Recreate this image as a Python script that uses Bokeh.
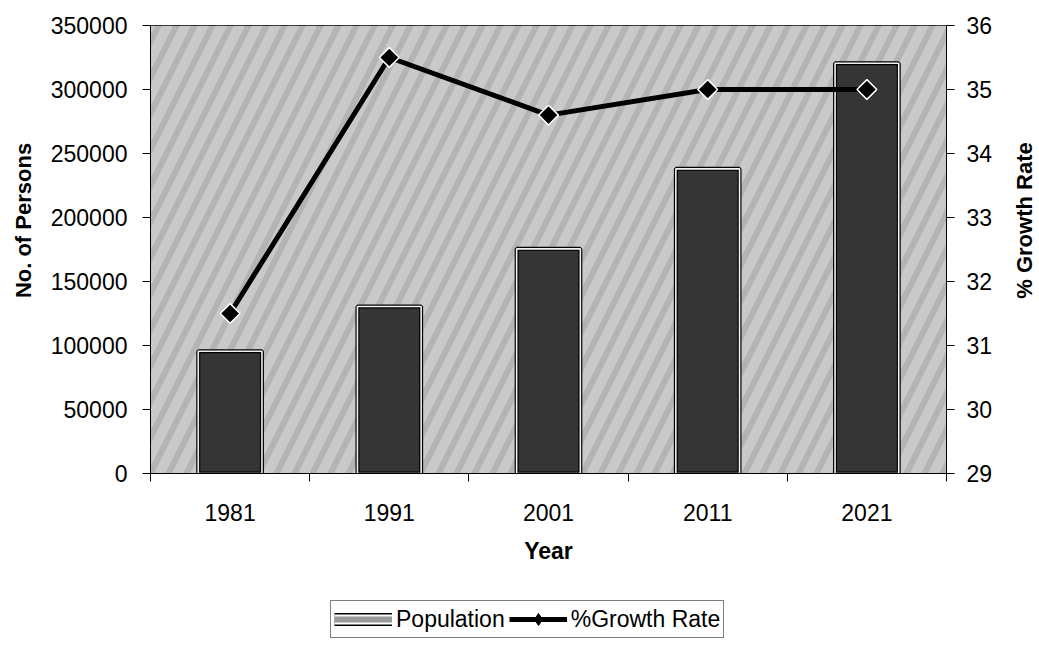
import math
from bokeh.plotting import figure
from bokeh.layouts import column, row
from bokeh.models import (Range1d, LinearAxis, FixedTicker, CustomJSTickFormatter,
                          NumeralTickFormatter, Legend, LegendItem, BoxAnnotation,
                          ColumnDataSource, Label)
from bokeh.embed import file_html
from bokeh.resources import INLINE

# ---- data ----
years = ["1981", "1991", "2001", "2011", "2021"]
population = [95500, 130500, 175500, 238000, 320500]
growth_rate = [31.5, 35.5, 34.6, 35.0, 35.0]
pop_ticks = [0, 50000, 100000, 150000, 200000, 250000, 300000, 350000]
growth_ticks = [29, 30, 31, 32, 33, 34, 35, 36]

FONT = "Liberation Sans"
MAIN_H = 590
LEFT_W = 44
RIGHT_W = 44
MAIN_W = 1039 - LEFT_W - RIGHT_W

xpos = [i + 0.5 for i in range(len(years))]
src = ColumnDataSource(dict(x=xpos, year=years, pop=population, growth=growth_rate))

def no_align(fig):
    try:
        fig.frame_align = False
    except Exception:
        pass

p = figure(width=MAIN_W, height=MAIN_H, output_backend="svg", toolbar_location=None,
           x_range=Range1d(0, len(years)), y_range=Range1d(pop_ticks[0], pop_ticks[-1]),
           min_border_left=150 - LEFT_W, min_border_right=MAIN_W - (949 - LEFT_W),
           min_border_top=25, min_border_bottom=MAIN_H - 473,
           background_fill_color="#b4b4b4", border_fill_color="white",
           outline_line_color="black", outline_line_width=1)
no_align(p)
p.xgrid.visible = False
p.ygrid.visible = False

p.extra_y_ranges = {"growth": Range1d(growth_ticks[0], growth_ticks[-1])}
raxis = LinearAxis(y_range_name="growth", ticker=FixedTicker(ticks=growth_ticks))
p.add_layout(raxis, "right")

def style_axis(ax):
    ax.axis_line_color = "black"
    ax.axis_line_width = 1
    ax.major_tick_line_color = "black"
    ax.major_tick_in = 0
    ax.major_tick_out = 8
    ax.minor_tick_line_color = None
    ax.major_label_text_font = FONT
    ax.major_label_text_font_size = "23px"
    ax.major_label_text_color = "black"
    ax.axis_label_text_font = FONT
    ax.axis_label_text_font_style = "bold"
    ax.axis_label_text_color = "black"

yax = p.yaxis[0]
style_axis(yax)
yax.ticker = FixedTicker(ticks=pop_ticks)
yax.formatter = NumeralTickFormatter(format="0")
yax.major_label_standoff = 15

style_axis(raxis)
raxis.major_label_standoff = 12

xax = p.xaxis[0]
style_axis(xax)
xax.ticker = FixedTicker(ticks=xpos, minor_ticks=list(range(len(years) + 1)))
xax.formatter = CustomJSTickFormatter(args=dict(labels=years),
                                      code="return labels[Math.floor(tick)];")
xax.major_tick_out = 0
xax.minor_tick_line_color = "black"
xax.minor_tick_in = 0
xax.minor_tick_out = 8
xax.major_label_standoff = 22
xax.axis_label = "Year"
xax.axis_label_text_font_size = "23px"
xax.axis_label_standoff = 14

# textured background approximation
bg = BoxAnnotation(level="underlay", fill_color="#b4b4b4", fill_alpha=1, line_color=None,
                   hatch_pattern="right_diagonal_line", hatch_color="white",
                   hatch_alpha=0.28, hatch_scale=36, hatch_weight=10)
p.add_layout(bg)

# bars
p.vbar(x="x", top="pop", bottom=0, width=0.4, source=src,
       fill_color="#353535", line_color="black", line_width=4)
p.vbar(x="x", top="pop", bottom=0, width=0.4, source=src,
       fill_color=None, line_color="#f2f2f2", line_width=1.6)

# growth rate line
p.line(x="x", y="growth", source=src, y_range_name="growth",
       line_color="black", line_width=5)
p.scatter(x="x", y="growth", source=src, y_range_name="growth",
          marker="square", angle=math.pi / 4, size=14,
          fill_color="black", line_color="white", line_width=1.5)

# ---- side strips carrying the vertical axis titles ----
def strip(w, h):
    f = figure(width=w, height=h, output_backend="svg", toolbar_location=None,
               x_range=Range1d(0, 1), y_range=Range1d(0, 1),
               x_axis_type=None, y_axis_type=None, min_border=0,
               outline_line_color=None, background_fill_color="white",
               border_fill_color="white")
    no_align(f)
    f.xgrid.visible = False
    f.ygrid.visible = False
    return f

TITLE_CY = 220  # vertical centre of both titles in the reference (px from top)
lf = strip(LEFT_W, MAIN_H)
lf.add_layout(Label(x=23, y=MAIN_H - TITLE_CY, x_units="screen", y_units="screen",
                    text="No. of Persons", angle=math.pi / 2, text_align="center",
                    text_baseline="middle", text_font=FONT, text_font_style="bold",
                    text_font_size="22px", text_color="black"))
rf = strip(RIGHT_W, MAIN_H)
rf.add_layout(Label(x=29, y=MAIN_H - TITLE_CY, x_units="screen",
                    y_units="screen", text="% Growth Rate", angle=math.pi / 2,
                    text_align="center", text_baseline="middle", text_font=FONT,
                    text_font_style="bold", text_font_size="22px", text_color="black"))

# ---- legend strip ----
lg = figure(width=1039, height=647 - MAIN_H, output_backend="svg", toolbar_location=None,
            x_range=Range1d(0, len(years)), y_range=Range1d(pop_ticks[0], pop_ticks[-1]),
            x_axis_type=None, y_axis_type=None, min_border=0,
            outline_line_color=None, background_fill_color="white",
            border_fill_color="white")
no_align(lg)
lg.xgrid.visible = False
lg.ygrid.visible = False
la = lg.line(x="x", y="pop", source=src, line_color="black", line_width=13,
             line_cap="butt", visible=False)
lb = lg.line(x="x", y="pop", source=src, line_color="white", line_width=10,
             line_cap="butt", visible=False)
lc = lg.line(x="x", y="pop", source=src, line_color="#9a9a9a", line_width=6,
             line_cap="butt", visible=False)
ld = lg.line(x="x", y="pop", source=src, line_color="black", line_width=5, visible=False)
le = lg.scatter(x="x", y="pop", source=src, marker="diamond", fill_color="black",
                line_color="black", visible=False)

legend = Legend(items=[LegendItem(label="Population", renderers=[la, lb, lc]),
                       LegendItem(label="%Growth Rate", renderers=[ld, le])],
                orientation="horizontal", location=(330, 9),
                glyph_width=58, glyph_height=30, label_standoff=4, spacing=4, padding=3,
                margin=0, border_line_color="black", border_line_width=1,
                background_fill_color="white", background_fill_alpha=1,
                label_text_font=FONT, label_text_font_size="23px", label_text_color="black")
lg.add_layout(legend)

open("out.html", "w").write(file_html(column(row(lf, p, rf), lg), INLINE))
